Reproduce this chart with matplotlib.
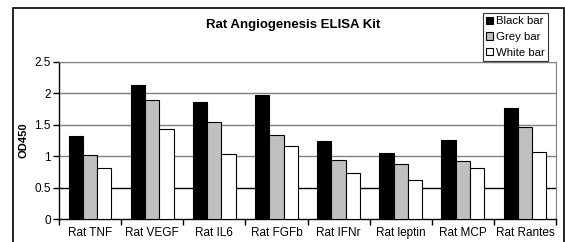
import numpy as np
import matplotlib.pyplot as plt
from matplotlib.patches import Rectangle

plt.rcParams['font.family'] = ['Liberation Sans', 'DejaVu Sans']

categories = ['Rat TNF', 'Rat VEGF', 'Rat IL6', 'Rat FGFb', 'Rat IFNr', 'Rat leptin', 'Rat MCP', 'Rat Rantes']
black_bar = [1.32, 2.13, 1.86, 1.97, 1.25, 1.05, 1.26, 1.77]
grey_bar = [1.02, 1.89, 1.54, 1.34, 0.94, 0.87, 0.93, 1.47]
white_bar = [0.82, 1.44, 1.03, 1.16, 0.74, 0.62, 0.81, 1.06]
series_names = ['Black bar', 'Grey bar', 'White bar']
yticks = [0, 0.5, 1, 1.5, 2, 2.5]

fig = plt.figure(figsize=(5.65, 2.42), dpi=100)
# plot area in pixels: x 59..556, y 62..219
ax = fig.add_axes([59 / 565, 1 - 219 / 242, 497 / 565, 157 / 242])

x = np.arange(len(categories))
w = 0.23
colors = ['black', '#c0c0c0', 'white']
for i, (vals, col, name) in enumerate(zip([black_bar, grey_bar, white_bar], colors, series_names)):
    ax.bar(x + (i - 1) * w, vals, width=w, color=col, edgecolor='black', linewidth=0.8,
           label=name, zorder=3)

ax.set_xlim(-0.5, len(categories) - 0.5)
ax.set_ylim(0, 2.5)
ax.set_yticks(yticks)
ax.set_yticklabels(['0', '0.5', '1', '1.5', '2', '2.5'])
for t in yticks[1:]:
    ax.axhline(t, color='black' if t == 0.5 else '#808080', linewidth=1, zorder=1)

ax.set_xticks(x)
ax.set_xticklabels(categories)
ax.set_xticks(np.arange(-0.5, len(categories)), minor=True)
ax.tick_params(axis='x', which='major', length=0, labelsize=8.5, pad=6)
ax.tick_params(axis='x', which='minor', length=4, direction='out', width=1)
ax.tick_params(axis='y', length=4, direction='out', width=1, labelsize=8.5, pad=2)

ax.spines['top'].set_color('#808080')
ax.spines['right'].set_color('#808080')
ax.spines['left'].set_linewidth(1)
ax.spines['bottom'].set_linewidth(1)

ax.set_ylabel('OD450', fontsize=8, fontweight='bold', labelpad=4)
fig.text(293 / 565, 1 - 25 / 242, 'Rat Angiogenesis ELISA Kit', ha='center', va='center',
         fontsize=9.5, fontweight='bold')

leg = ax.legend(loc='upper left', bbox_to_anchor=(483 / 565, 1 - 13 / 242),
                bbox_transform=fig.transFigure, fontsize=8.2, frameon=True, fancybox=False,
                edgecolor='black', handlelength=0.6, handleheight=0.6, handletextpad=0.25,
                borderpad=0.3, labelspacing=0.5, borderaxespad=0)
leg.get_frame().set_linewidth(0.8)
leg.set_zorder(5)

# outer chart frame
fig.patches.append(Rectangle((13 / 565, -0.05), 551 / 565, 1 - 8 / 242 + 0.05,
                             transform=fig.transFigure, fill=False, edgecolor='black',
                             linewidth=1.2))

fig.savefig('out.png', dpi=100)
